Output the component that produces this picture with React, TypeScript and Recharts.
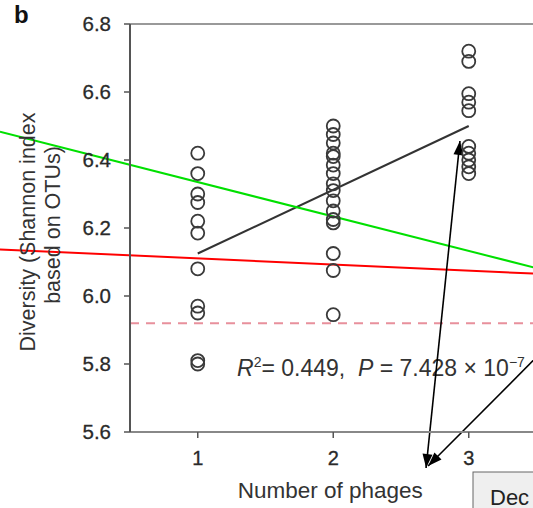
import React from 'react';
import { ComposedChart, Scatter, XAxis, YAxis, ReferenceLine } from 'recharts';

const PHAGE_COUNTS = [1, 2, 3];
const DIVERSITY_ONE_PHAGE = [6.42, 6.36, 6.3, 6.275, 6.22, 6.185, 6.08, 5.97, 5.95, 5.81, 5.8];
const DIVERSITY_TWO_PHAGES = [6.5, 6.475, 6.45, 6.42, 6.41, 6.385, 6.36, 6.33, 6.31, 6.28, 6.25, 6.225, 6.215, 6.125, 6.075, 5.945];
const DIVERSITY_THREE_PHAGES = [6.72, 6.69, 6.595, 6.57, 6.545, 6.44, 6.42, 6.4, 6.38, 6.36];
const Y_TICKS = [5.6, 5.8, 6.0, 6.2, 6.4, 6.6, 6.8];

// fitted regression, and the dashed reference level
const FIT_LINE = [{ x: 1, y: 6.125 }, { x: 3, y: 6.5 }];
const BASELINE_DIVERSITY = 5.92;

// overlay annotations drawn on top of the figure
const GREEN_LINE = [{ x: -0.46, y: 6.483 }, { x: 3.48, y: 6.084 }];
const RED_LINE = [{ x: -0.46, y: 6.137 }, { x: 3.48, y: 6.066 }];
const ARROW_ONE = [{ x: 2.935, y: 6.456 }, { x: 2.685, y: 5.494 }];
const ARROW_TWO = [{ x: 3.59, y: 5.856 }, { x: 2.7, y: 5.5 }];

const FONT = '"Liberation Sans", Arial, Helvetica, sans-serif';
const AXIS_COLOR = '#555';

const points = [
  ...DIVERSITY_ONE_PHAGE.map((y) => ({ x: PHAGE_COUNTS[0], y })),
  ...DIVERSITY_TWO_PHAGES.map((y) => ({ x: PHAGE_COUNTS[1], y })),
  ...DIVERSITY_THREE_PHAGES.map((y) => ({ x: PHAGE_COUNTS[2], y })),
];

function head(tx: number, ty: number, fx: number, fy: number) {
  const a = Math.atan2(ty - fy, tx - fx);
  const len = 14;
  const half = 5;
  const bx = tx - len * Math.cos(a);
  const by = ty - len * Math.sin(a);
  const px = -Math.sin(a) * half;
  const py = Math.cos(a) * half;
  return <polygon points={`${tx},${ty} ${bx + px},${by + py} ${bx - px},${by - py}`} fill="#000" />;
}

const arrowShape = (both: boolean) => (p: any) => (
  <g>
    <line x1={p.x1} y1={p.y1} x2={p.x2} y2={p.y2} stroke="#000" strokeWidth={1.6} />
    {head(p.x2, p.y2, p.x1, p.y1)}
    {both && head(p.x1, p.y1, p.x2, p.y2)}
  </g>
);

const Dot = (p: any) => (
  <circle cx={p.cx} cy={p.cy} r={6.5} fill="none" stroke="#3a3a3a" strokeWidth={1.8} />
);

const YTitle = () => (
  <g fontFamily={FONT} fontSize={21.5} fill="#333">
    <text transform="translate(35,232) rotate(-90)" textAnchor="middle">Diversity (Shannon index</text>
    <text transform="translate(60,225) rotate(-90)" textAnchor="middle">based on OTUs)</text>
  </g>
);

const XTitle = (p: any) => (
  <text x={p.viewBox.x + p.viewBox.width / 2 - 3} y={498} textAnchor="middle" fontFamily={FONT} fontSize={22.5} fill="#333">
    Number of phages
  </text>
);

export default function App() {
  return (
    <div style={{ width: 533, height: 508, overflow: 'hidden', position: 'relative', background: '#fff' }}>
      <style>{'body{margin:0}'}</style>
      <ComposedChart width={540} height={508} margin={{ top: 24, right: 3.5, bottom: 0, left: 0 }}>
        <XAxis
          dataKey="x"
          type="number"
          domain={[0.5, 3.5]}
          ticks={PHAGE_COUNTS}
          height={76}
          tickSize={6}
          tickMargin={13}
          axisLine={{ stroke: '#888', strokeWidth: 2 }}
          tickLine={{ stroke: AXIS_COLOR, strokeWidth: 1.5 }}
          tick={{ fill: '#2a2a2a', fontSize: 20, fontFamily: FONT, stroke: '#2a2a2a', strokeWidth: 0.3 }}
          label={<XTitle />}
        />
        <YAxis
          dataKey="y"
          type="number"
          domain={[5.6, 6.8]}
          ticks={Y_TICKS}
          width={130}
          tickSize={6}
          tickMargin={13}
          tickFormatter={(v: number) => v.toFixed(1)}
          axisLine={{ stroke: AXIS_COLOR, strokeWidth: 2 }}
          tickLine={{ stroke: AXIS_COLOR, strokeWidth: 1.5 }}
          tick={{ fill: '#2a2a2a', fontSize: 20.5, fontFamily: FONT, stroke: '#2a2a2a', strokeWidth: 0.3 }}
          label={<YTitle />}
        />
        <ReferenceLine y={6.8} stroke="#999" strokeWidth={2} />
        <ReferenceLine y={BASELINE_DIVERSITY} stroke="#e8909c" strokeWidth={2} strokeDasharray="9 7" />
        <ReferenceLine segment={FIT_LINE} stroke="#333" strokeWidth={2} />
        <Scatter data={points} dataKey="y" shape={Dot} isAnimationActive={false} />
        <ReferenceLine segment={GREEN_LINE} stroke="#00e000" strokeWidth={2} ifOverflow="visible" />
        <ReferenceLine segment={RED_LINE} stroke="#ff0000" strokeWidth={2} ifOverflow="visible" />
        <ReferenceLine segment={ARROW_ONE} ifOverflow="visible" shape={arrowShape(true)} />
        <ReferenceLine segment={ARROW_TWO} ifOverflow="visible" shape={arrowShape(false)} />
        <text x={14} y={23} fontFamily={FONT} fontSize={24} fontWeight="bold" fill="#111">b</text>
        <text x={237} y={376} fontFamily={FONT} fontSize={23} fill="#333" style={{ whiteSpace: 'pre' }}>
          <tspan fontStyle="italic">R</tspan>
          <tspan dy={-9} fontSize={14}>2</tspan>
          <tspan dy={9}>{'= 0.449,  '}</tspan>
          <tspan fontStyle="italic">P</tspan>
          <tspan>{' = 7.428 × 10'}</tspan>
          <tspan dy={-9} fontSize={14}>−7</tspan>
        </text>
        <rect x={473} y={472} width={80} height={50} fill="#efefef" stroke="#666" strokeWidth={1} />
        <text x={490} y={505} fontFamily={FONT} fontSize={22} fill="#222">Dec</text>
      </ComposedChart>
    </div>
  );
}
